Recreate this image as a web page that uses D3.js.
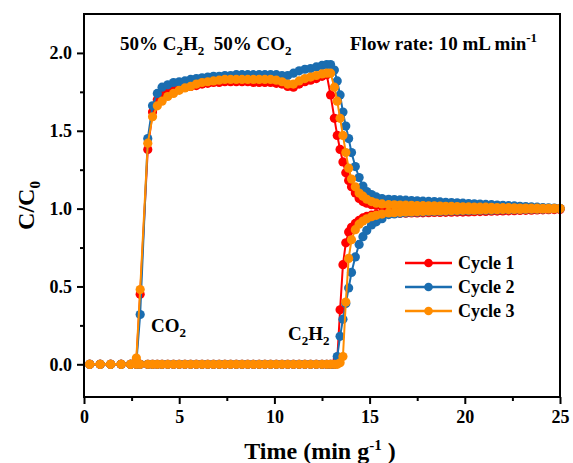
<!DOCTYPE html>
<html>
<head>
<meta charset="utf-8">
<script src="https://cdn.jsdelivr.net/npm/d3@7"></script>
<style>
  body { margin: 0; background: #fff; }
  svg { display: block; }
  text { font-family: "Liberation Serif", "Times New Roman", serif; font-weight: bold; fill: #000; }
</style>
</head>
<body>
<svg id="chart" width="573" height="463"></svg>
<script>
// Sampling times (min g^-1), shared by every cycle
const time = [
  0.3, 0.85, 1.4, 1.95, 2.45, 2.75,
  2.95, 3.35, 3.6, 3.85, 4.1, 4.4, 4.7, 5.0, 5.3, 5.6,
  5.9, 6.2, 6.5, 6.8, 7.1, 7.4, 7.7, 8.0, 8.3, 8.6,
  8.9, 9.2, 9.5, 9.8, 10.1, 10.4, 10.7, 11.0, 11.3, 11.6,
  11.9, 12.2, 12.5, 12.75,
  12.95, 13.15, 13.3, 13.45, 13.6, 13.75, 13.9, 14.05, 14.25, 14.45,
  14.65, 14.85, 15.1, 15.35, 15.65,
  16.0, 16.3, 16.6, 16.9, 17.2, 17.5, 17.8, 18.1, 18.4, 18.7,
  19.0, 19.3, 19.6, 19.9, 20.2, 20.5, 20.8, 21.1, 21.4, 21.7,
  22.0, 22.3, 22.6, 22.9, 23.2, 23.5, 23.8, 24.1, 24.4, 24.7,
  25.0
];

// Cycle 1
const co2Cycle1 = [
  0, 0, 0, 0, 0, 0.02,
  0.45, 1.38, 1.62, 1.70, 1.74, 1.75, 1.76, 1.77, 1.78, 1.785,
  1.79, 1.80, 1.805, 1.81, 1.81, 1.815, 1.815, 1.815, 1.815, 1.815,
  1.81, 1.81, 1.81, 1.81, 1.805, 1.80, 1.785, 1.78, 1.80, 1.815,
  1.825, 1.835, 1.85, 1.86,
  1.73, 1.58, 1.47, 1.38, 1.30, 1.23, 1.18, 1.14, 1.10, 1.065,
  1.045, 1.035, 1.025, 1.02, 1.015,
  1.012, 1.012, 1.011, 1.011, 1.010, 1.010, 1.009, 1.009, 1.008, 1.008,
  1.007, 1.007, 1.006, 1.006, 1.005, 1.005, 1.004, 1.004, 1.004, 1.003,
  1.003, 1.003, 1.002, 1.002, 1.002, 1.001, 1.001, 1.001, 1.0, 1.0,
  1.0
];
const c2h2Cycle1 = [
  0, 0, 0, 0, 0, 0,
  0, 0, 0, 0, 0, 0, 0, 0, 0, 0,
  0, 0, 0, 0, 0, 0, 0, 0, 0, 0,
  0, 0, 0, 0, 0, 0, 0, 0, 0, 0,
  0, 0, 0, 0,
  0, 0, 0.03, 0.35, 0.64, 0.78, 0.85, 0.88, 0.905, 0.925,
  0.94, 0.95, 0.958, 0.963, 0.966,
  0.968, 0.969, 0.970, 0.971, 0.972, 0.972, 0.973, 0.974, 0.975, 0.975,
  0.976, 0.977, 0.978, 0.978, 0.979, 0.980, 0.981, 0.982, 0.983, 0.984,
  0.985, 0.986, 0.987, 0.988, 0.989, 0.990, 0.991, 0.992, 0.993, 0.994,
  0.995
];

// Cycle 2
const co2Cycle2 = [
  0, 0, 0, 0, 0, 0.01,
  0.32, 1.45, 1.66, 1.74, 1.78, 1.795, 1.81, 1.815, 1.82, 1.83,
  1.835, 1.84, 1.845, 1.85, 1.85, 1.855, 1.855, 1.86, 1.86, 1.86,
  1.86, 1.86, 1.86, 1.86, 1.86, 1.855, 1.855, 1.87, 1.885, 1.895,
  1.90, 1.91, 1.92, 1.925,
  1.925, 1.89, 1.82, 1.73, 1.62, 1.53, 1.45, 1.36, 1.27, 1.20,
  1.145, 1.11, 1.09, 1.075, 1.065,
  1.060, 1.058, 1.056, 1.054, 1.052, 1.050, 1.048, 1.046, 1.045, 1.043,
  1.041, 1.039, 1.037, 1.035, 1.033, 1.031, 1.029, 1.027, 1.025, 1.023,
  1.021, 1.019, 1.017, 1.015, 1.013, 1.011, 1.009, 1.007, 1.005, 1.003,
  1.001
];
const c2h2Cycle2 = [
  0, 0, 0, 0, 0, 0,
  0, 0, 0, 0, 0, 0, 0, 0, 0, 0,
  0, 0, 0, 0, 0, 0, 0, 0, 0, 0,
  0, 0, 0, 0, 0, 0, 0, 0, 0, 0,
  0, 0, 0, 0,
  0, 0, 0.05, 0.18, 0.29, 0.39, 0.49, 0.59, 0.69, 0.77,
  0.82, 0.86, 0.895, 0.915, 0.935,
  0.962, 0.966, 0.970, 0.973, 0.975, 0.977, 0.979, 0.980, 0.981, 0.982,
  0.983, 0.984, 0.985, 0.986, 0.987, 0.988, 0.989, 0.990, 0.990, 0.991,
  0.992, 0.993, 0.993, 0.994, 0.995, 0.996, 0.996, 0.997, 0.998, 0.999,
  1.0
];

// Cycle 3
const co2Cycle3 = [
  0, 0, 0, 0, 0, 0.04,
  0.48, 1.42, 1.59, 1.66, 1.69, 1.72, 1.74, 1.76, 1.775, 1.785,
  1.80, 1.81, 1.815, 1.82, 1.825, 1.83, 1.83, 1.83, 1.83, 1.83,
  1.83, 1.83, 1.83, 1.83, 1.825, 1.815, 1.80, 1.80, 1.82, 1.835,
  1.845, 1.855, 1.865, 1.87,
  1.87, 1.78, 1.69, 1.58, 1.47, 1.36, 1.26, 1.19, 1.14, 1.10,
  1.08, 1.06, 1.045, 1.035, 1.03,
  1.025, 1.024, 1.023, 1.022, 1.021, 1.020, 1.019, 1.018, 1.017, 1.016,
  1.015, 1.014, 1.013, 1.012, 1.011, 1.010, 1.009, 1.009, 1.008, 1.007,
  1.006, 1.006, 1.005, 1.004, 1.004, 1.003, 1.003, 1.002, 1.002, 1.001,
  1.0
];
const c2h2Cycle3 = [
  0, 0, 0, 0, 0, 0,
  0, 0, 0, 0, 0, 0, 0, 0, 0, 0,
  0, 0, 0, 0, 0, 0, 0, 0, 0, 0,
  0, 0, 0, 0, 0, 0, 0, 0, 0, 0,
  0, 0, 0, 0,
  0, 0, 0, 0.01, 0.05, 0.40, 0.68, 0.80, 0.865, 0.90,
  0.92, 0.935, 0.948, 0.957, 0.965,
  0.972, 0.974, 0.976, 0.978, 0.979, 0.980, 0.982, 0.983, 0.984, 0.985,
  0.986, 0.987, 0.988, 0.989, 0.990, 0.990, 0.991, 0.992, 0.992, 0.993,
  0.994, 0.994, 0.995, 0.995, 0.996, 0.997, 0.997, 0.998, 0.998, 0.999,
  1.0
];

const cycleNames = ["Cycle 1", "Cycle 2", "Cycle 3"];
const cycleColors = ["#ff0000", "#1a6db0", "#ff8c00"];
const xTicks = [0, 5, 10, 15, 20, 25];
const xMinorTicks = [2.5, 7.5, 12.5, 17.5, 22.5];
const yTicks = [0.0, 0.5, 1.0, 1.5, 2.0];
const yMinorTicks = [0.25, 0.75, 1.25, 1.75];

const cycles = [
  { name: cycleNames[0], color: cycleColors[0], co2: co2Cycle1, c2h2: c2h2Cycle1 },
  { name: cycleNames[1], color: cycleColors[1], co2: co2Cycle2, c2h2: c2h2Cycle2 },
  { name: cycleNames[2], color: cycleColors[2], co2: co2Cycle3, c2h2: c2h2Cycle3 }
];

const svg = d3.select("#chart");
const plot = { left: 84, right: 560, top: 14, bottom: 397 };

const x = d3.scaleLinear().domain([0, 25]).range([plot.left, plot.right]);
const y = d3.scaleLinear().domain([-0.21, 2.25]).range([plot.bottom, plot.top]);

const markerR = 4.6;
const line = d3.line().x(d => x(d[0])).y(d => y(d[1]));

// Breakthrough curves: each cycle draws its CO2 and C2H2 traces
const curves = svg.append("g");
cycles.forEach(c => {
  [c.co2, c.c2h2].forEach(vals => {
    const pts = time.map((t, i) => [t, vals[i]]);
    const g = curves.append("g");
    g.append("path")
      .attr("d", line(pts))
      .attr("fill", "none")
      .attr("stroke", c.color)
      .attr("stroke-width", 2);
    g.selectAll("circle").data(pts).join("circle")
      .attr("cx", d => x(d[0]))
      .attr("cy", d => y(d[1]))
      .attr("r", markerR)
      .attr("fill", c.color);
  });
});

// Frame
svg.append("rect")
  .attr("x", plot.left).attr("y", plot.top)
  .attr("width", plot.right - plot.left)
  .attr("height", plot.bottom - plot.top)
  .attr("fill", "none").attr("stroke", "#000").attr("stroke-width", 2);

// Axes
function styleAxis(g) {
  g.select(".domain").remove();
  g.selectAll(".tick line").attr("stroke", "#000").attr("stroke-width", 2);
  g.selectAll(".tick text").style("font-size", "18px").attr("fill", "#000");
}

svg.append("g")
  .attr("transform", `translate(0,${plot.bottom})`)
  .call(d3.axisBottom(x).tickValues(xTicks).tickSize(7).tickPadding(6).tickFormat(d3.format("d")))
  .call(styleAxis);
svg.append("g")
  .attr("transform", `translate(0,${plot.bottom})`)
  .call(d3.axisBottom(x).tickValues(xMinorTicks).tickSize(4).tickFormat(""))
  .call(styleAxis);

svg.append("g")
  .attr("transform", `translate(${plot.left},0)`)
  .call(d3.axisLeft(y).tickValues(yTicks).tickSize(7).tickPadding(5).tickFormat(d3.format(".1f")))
  .call(styleAxis);
svg.append("g")
  .attr("transform", `translate(${plot.left},0)`)
  .call(d3.axisLeft(y).tickValues(yMinorTicks).tickSize(4).tickFormat(""))
  .call(styleAxis);

// Axis titles
const xTitle = svg.append("text")
  .attr("x", (plot.left + plot.right) / 2 - 2)
  .attr("y", 459)
  .attr("text-anchor", "middle")
  .style("font-size", "24px");
xTitle.append("tspan").text("Time (min g");
xTitle.append("tspan").attr("dy", -9).style("font-size", "15px").text("-1");
xTitle.append("tspan").attr("dy", 9).text(" )");

const yTitle = svg.append("text")
  .attr("transform", `translate(34,${(plot.top + plot.bottom) / 2}) rotate(-90)`)
  .attr("text-anchor", "middle")
  .style("font-size", "24px");
yTitle.append("tspan").text("C/C");
yTitle.append("tspan").attr("dy", 6).style("font-size", "15px").text("0");

// Gas-composition and flow annotations
function chem(sel, parts, size) {
  // parts: [text, "sub" | "sup" | null]
  let shift = 0;
  parts.forEach(([txt, kind]) => {
    let target = 0;
    if (kind === "sub") target = 5;
    if (kind === "sup") target = -8;
    const t = sel.append("tspan").attr("dy", target - shift).text(txt);
    if (kind) t.style("font-size", Math.round(size * 0.68) + "px");
    shift = target;
  });
}

const feed = svg.append("text").attr("x", 120).attr("y", 50).style("font-size", "19px");
chem(feed, [["50% C", null], ["2", "sub"], ["H", null], ["2", "sub"], ["\u00a0\u00a050% CO", null], ["2", "sub"]], 19);

const flow = svg.append("text").attr("x", 350).attr("y", 50).style("font-size", "19px");
chem(flow, [["Flow rate: 10 mL min", null], ["-1", "sup"]], 19);

const co2Label = svg.append("text").attr("x", 151).attr("y", 332).style("font-size", "19px");
chem(co2Label, [["CO", null], ["2", "sub"]], 19);

const c2h2Label = svg.append("text").attr("x", 288).attr("y", 340).style("font-size", "19px");
chem(c2h2Label, [["C", null], ["2", "sub"], ["H", null], ["2", "sub"]], 19);

// Legend
const legend = svg.append("g");
cycles.forEach((c, i) => {
  const ly = 263 + i * 24;
  legend.append("line")
    .attr("x1", 405).attr("x2", 452).attr("y1", ly).attr("y2", ly)
    .attr("stroke", c.color).attr("stroke-width", 2.5);
  legend.append("circle")
    .attr("cx", 428.5).attr("cy", ly).attr("r", 4.3).attr("fill", c.color);
  legend.append("text")
    .attr("x", 458).attr("y", ly + 6)
    .style("font-size", "18px")
    .text(c.name);
});
</script>
</body>
</html>
